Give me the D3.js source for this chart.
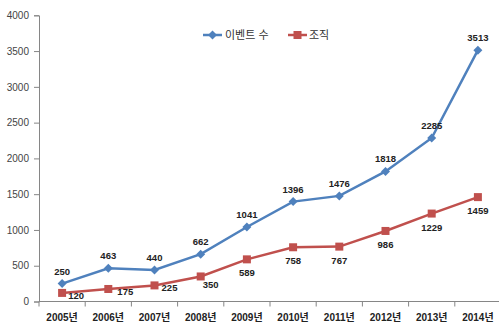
<!DOCTYPE html>
<html><head><meta charset="utf-8">
<script src="https://cdn.jsdelivr.net/npm/d3@7"></script>
<style>
body{margin:0;background:#fff;}
text{font-family:"Liberation Sans","Noto Sans CJK KR",sans-serif;}
</style></head>
<body>
<svg id="c" width="499" height="322"></svg>
<script>
const categories = ["2005년","2006년","2007년","2008년","2009년","2010년","2011년","2012년","2013년","2014년"];
const events = [250,463,440,662,1041,1396,1476,1818,2285,3513];
const orgs = [120,175,225,350,589,758,767,986,1229,1459];
const yTicks = [0,500,1000,1500,2000,2500,3000,3500,4000];
const seriesNames = ["이벤트 수","조직"];
const orgLabelShift = [14,17,15,10,0,0,0,0,0,0];

const svg = d3.select("#c");
const x = d3.scaleBand().domain(categories).range([39,501]);
const y = d3.scaleLinear().domain([0,4000]).range([301.5,15.3]);
const blue = "#4F81BD", red = "#C0504D";

const yAxis = d3.axisLeft(y).tickValues(yTicks).tickFormat(d3.format("d")).tickSize(5).tickPadding(5);
const gy = svg.append("g").attr("transform","translate(39,0)").call(yAxis);
gy.selectAll("path,line").attr("stroke","#868686");
gy.selectAll("text").attr("font-size",10).attr("fill","#444");

const gx = svg.append("g").attr("transform","translate(0,301.5)");
gx.append("line").attr("x1",39).attr("x2",499).attr("stroke","#868686");
const bounds = categories.map((c)=>x(c)).concat([x.range()[1]]);
gx.selectAll("line.t").data(bounds).join("line").attr("class","t")
  .attr("x1",d=>d).attr("x2",d=>d).attr("y1",0).attr("y2",5).attr("stroke","#868686");
gx.selectAll("text").data(categories).join("text")
  .attr("x",d=>x(d)+x.bandwidth()/2).attr("y",19)
  .attr("text-anchor","middle").attr("font-size",10).attr("font-weight","bold").attr("fill","#222")
  .text(d=>d);

const cx = (d,i)=>x(categories[i])+x.bandwidth()/2;
const line = d3.line().x(cx).y(d=>y(d));
svg.append("path").datum(orgs).attr("d",line).attr("fill","none").attr("stroke",red).attr("stroke-width",2.5);
svg.append("path").datum(events).attr("d",line).attr("fill","none").attr("stroke",blue).attr("stroke-width",2.5);

const diamond = "M0,-4.5L4.5,0L0,4.5L-4.5,0Z";
svg.selectAll("path.ev").data(events).join("path").attr("class","ev")
  .attr("d",diamond).attr("transform",(d,i)=>`translate(${cx(d,i)},${y(d)})`).attr("fill",blue);
svg.selectAll("rect.og").data(orgs).join("rect").attr("class","og")
  .attr("x",(d,i)=>cx(d,i)-4).attr("y",d=>y(d)-4).attr("width",8).attr("height",8).attr("fill",red);

svg.selectAll("text.evl").data(events).join("text").attr("class","evl")
  .attr("x",(d,i)=>cx(d,i)).attr("y",d=>y(d)-9)
  .attr("text-anchor","middle").attr("font-size",9.5).attr("font-weight","bold").attr("fill","#222").text(d=>d);
svg.selectAll("text.ogl").data(orgs).join("text").attr("class","ogl")
  .attr("x",(d,i)=>cx(d,i)+orgLabelShift[i]).attr("y",(d,i)=>y(d)+(orgLabelShift[i]?(i<3?6:12):17))
  .attr("text-anchor","middle").attr("font-size",9.5).attr("font-weight","bold").attr("fill","#222").text(d=>d);

// legend
const lg = svg.append("g");
lg.append("line").attr("x1",203).attr("x2",222).attr("y1",35).attr("y2",35).attr("stroke",blue).attr("stroke-width",2.5);
lg.append("path").attr("d",diamond).attr("transform","translate(212.5,35)").attr("fill",blue);
lg.append("text").attr("x",225).attr("y",39).attr("font-size",11).attr("fill","#333").text(seriesNames[0]);
lg.append("line").attr("x1",288).attr("x2",307).attr("y1",35).attr("y2",35).attr("stroke",red).attr("stroke-width",2.5);
lg.append("rect").attr("x",293.5).attr("y",31).attr("width",8).attr("height",8).attr("fill",red);
lg.append("text").attr("x",309).attr("y",39).attr("font-size",11).attr("fill","#333").text(seriesNames[1]);
</script>
</body></html>
